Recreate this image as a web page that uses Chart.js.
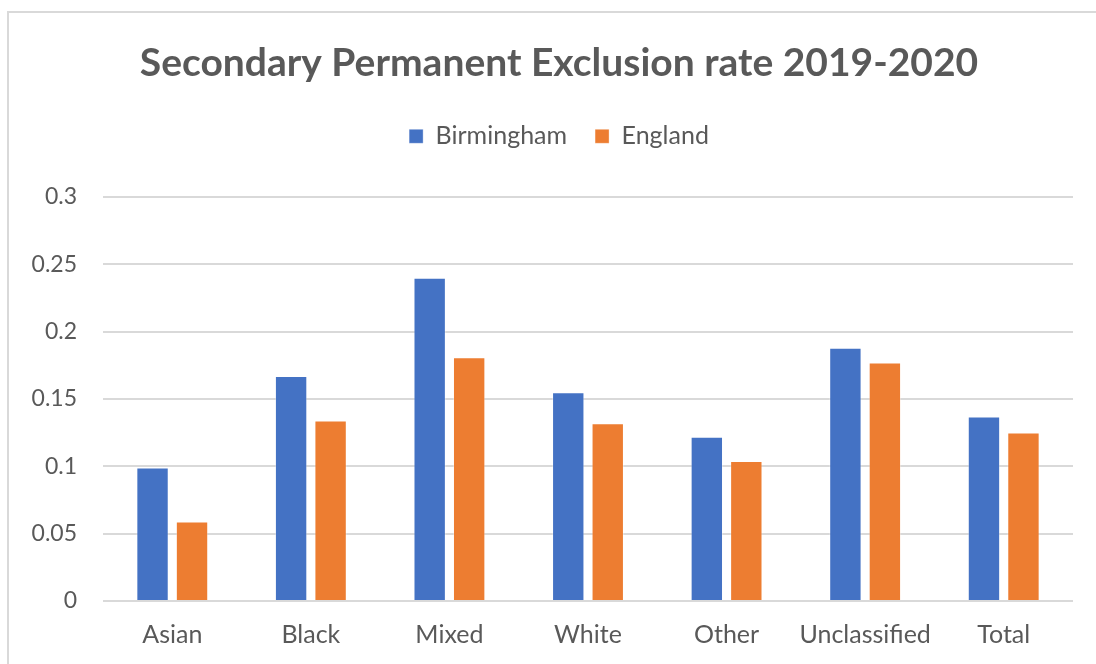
<!DOCTYPE html>
<html lang="en">

<head>
    <meta charset="UTF-8">
    <title>Secondary Permanent Exclusion rate 2019-2020</title>
    <style>
        html, body {
            margin: 0;
            padding: 0;
            background: #ffffff;
            overflow: hidden;
        }

        .chart-wrap {
            position: relative;
            width: 1096px;
            height: 664px;
        }

        .chart-wrap canvas {
            display: block;
        }

        .chart-frame {
            position: absolute;
            left: 7px;
            top: 11px;
            width: 1200px;
            height: 800px;
            border: 2px solid #d9d9d9;
            pointer-events: none;
        }
    </style>
</head>

<body>
    <div class="chart-wrap">
        <canvas id="chartCanvas" width="1096" height="664"></canvas>
        <div class="chart-frame"></div>
    </div>

    <script src="https://cdn.jsdelivr.net/npm/chart.js"></script>
    <script>
        // Dados do gráfico
        const categories = ['Asian', 'Black', 'Mixed', 'White', 'Other', 'Unclassified', 'Total'];
        const birmingham = [0.099, 0.167, 0.240, 0.155, 0.122, 0.188, 0.137];
        const england = [0.059, 0.134, 0.181, 0.132, 0.104, 0.177, 0.125];
        const yTicks = [0, 0.05, 0.1, 0.15, 0.2, 0.25, 0.3];
        const yTickLabels = ['0', '0.05', '0.1', '0.15', '0.2', '0.25', '0.3'];

        const fontFamily = 'Lato, "Open Sans", sans-serif';
        const textColor = '#595959';

        // Espaço extra abaixo da legenda
        const legendSpacing = {
            id: 'legendSpacing',
            beforeInit(chart) {
                const fit = chart.legend.fit;
                chart.legend.fit = function () {
                    fit.bind(chart.legend)();
                    this.height += 38;
                };
            }
        };

        const ctx = document.getElementById('chartCanvas').getContext('2d');

        const chart = new Chart(ctx, {
            type: 'bar',
            data: {
                labels: categories,
                datasets: [{
                    label: 'Birmingham',
                    data: birmingham,
                    backgroundColor: '#4472C4',
                    borderColor: 'rgba(255,255,255,0.35)',
                    borderWidth: 1
                }, {
                    label: 'England',
                    data: england,
                    backgroundColor: '#ED7D31',
                    borderColor: 'rgba(255,255,255,0.35)',
                    borderWidth: 1
                }]
            },
            options: {
                responsive: false,
                animation: false,
                categoryPercentage: 0.57,
                barPercentage: 0.82,
                layout: {
                    padding: { top: 40, left: 45, right: 23, bottom: 3 }
                },
                plugins: {
                    title: {
                        display: true,
                        text: 'Secondary Permanent Exclusion rate 2019-2020',
                        color: textColor,
                        font: { family: fontFamily, size: 39, weight: 'bold' },
                        padding: { top: 0, bottom: 9 }
                    },
                    legend: {
                        display: true,
                        position: 'top',
                        labels: {
                            color: textColor,
                            font: { family: fontFamily, size: 25 },
                            boxWidth: 14,
                            boxHeight: 14,
                            padding: 28
                        }
                    },
                    tooltip: { enabled: false }
                },
                scales: {
                    x: {
                        grid: { display: false },
                        border: { display: false },
                        ticks: {
                            color: textColor,
                            font: { family: fontFamily, size: 25 },
                            padding: 11,
                            maxRotation: 0,
                            minRotation: 0,
                            autoSkip: false
                        }
                    },
                    y: {
                        min: 0,
                        max: 0.3,
                        afterBuildTicks(scale) {
                            scale.ticks = yTicks.map(v => ({ value: v }));
                        },
                        afterFit(scale) {
                            // largura fixa; os rótulos podem passar da borda esquerda
                            scale.width = 58;
                            scale._computeLabelArea = () => null;
                        },
                        grid: {
                            color: '#d9d9d9',
                            lineWidth: 2,
                            drawTicks: false
                        },
                        border: { display: false },
                        ticks: {
                            color: textColor,
                            font: { family: fontFamily, size: 23 },
                            padding: 26,
                            callback: (value) => yTickLabels[yTicks.indexOf(value)]
                        }
                    }
                }
            },
            plugins: [legendSpacing]
        });
    </script>
</body>

</html>
